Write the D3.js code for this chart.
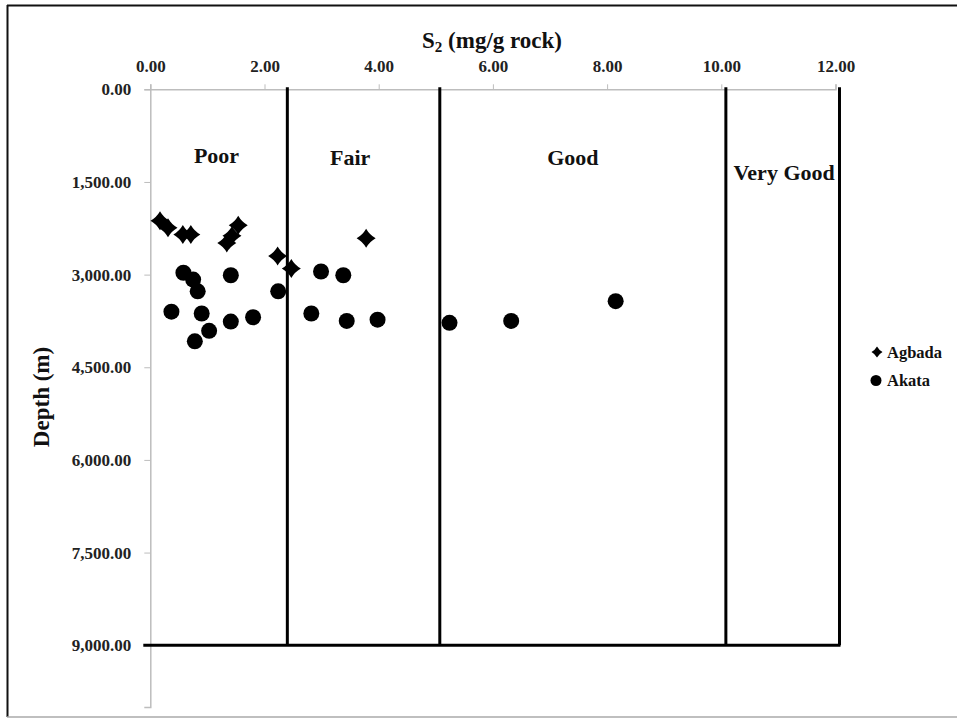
<!DOCTYPE html>
<html>
<head>
<meta charset="utf-8">
<script src="https://cdn.jsdelivr.net/npm/d3@7"></script>
<style>
  html, body { margin: 0; padding: 0; background: #fff; }
  svg { display: block; }
  text { font-family: "Liberation Serif", "Times New Roman", serif; }
</style>
</head>
<body>
<svg id="chart" width="957" height="718"></svg>
<script>
// S2 tick values (top axis) and depth ticks (left axis)
const s2Ticks = [0, 2, 4, 6, 8, 10, 12];
const depthTicks = [0, 1500, 3000, 4500, 6000, 7500, 9000];

// Agbada Formation samples
const agbadaS2    = [0.17, 0.31, 0.57, 0.71, 1.54, 1.43, 1.34, 2.23, 2.47, 3.78];
const agbadaDepth = [2130, 2240, 2350, 2350, 2200, 2370, 2490, 2700, 2900, 2410];

// Akata Formation samples
const akataS2    = [0.58, 0.75, 0.83, 1.41, 2.24, 2.99, 3.38, 0.37, 0.90, 1.03, 0.78, 1.41, 1.80, 2.82, 3.44, 3.98, 5.24, 6.32, 8.15];
const akataDepth = [2970, 3080, 3270, 3010, 3270, 2950, 3010, 3600, 3630, 3910, 4080, 3760, 3690, 3630, 3750, 3730, 3780, 3750, 3430];

// Source-potential classes: boundaries in S2 and label anchors
const classBounds = [2.4, 5.07, 10.08, 12.07];
const classNames  = ["Poor", "Fair", "Good", "Very Good"];
const classLabelS2    = [1.16, 3.5, 7.4, 11.1];
const classLabelDepth = [1200, 1220, 1230, 1470];

const seriesNames = ["Agbada", "Akata"];

const svg = d3.select("#chart");

// outer frame
svg.append("line").attr("x1", 7).attr("x2", 957).attr("y1", 5.5).attr("y2", 5.5)
  .attr("stroke", "#111").attr("stroke-width", 2);
svg.append("line").attr("x1", 7.5).attr("x2", 7.5).attr("y1", 5).attr("y2", 717)
  .attr("stroke", "#111").attr("stroke-width", 2);
svg.append("line").attr("x1", 7).attr("x2", 957).attr("y1", 717).attr("y2", 717)
  .attr("stroke", "#aaa").attr("stroke-width", 1.5);

const x = d3.scaleLinear().domain([0, 12]).range([150.3, 835.5]);
const y = d3.scaleLinear().domain([0, 10000]).range([89.3, 707]);

const fmtS2 = d3.format(".2f");
const fmtDepth = d3.format(",.2f");

// top axis (S2)
const xAxis = svg.append("g").attr("transform", `translate(0,${y(0)})`)
  .call(d3.axisTop(x).tickValues(s2Ticks).tickFormat(fmtS2).tickSize(5).tickPadding(12));
xAxis.select(".domain").attr("stroke", "#bdbdbd").attr("stroke-width", 1.5);
xAxis.selectAll(".tick line").attr("stroke", "#bdbdbd");
xAxis.selectAll(".tick text").attr("fill", "#222").attr("font-size", 17)
  .attr("font-weight", "bold");

// left axis (depth)
const yAxis = svg.append("g").attr("transform", `translate(${x(0)},0)`)
  .call(d3.axisLeft(y).tickValues(depthTicks).tickFormat(fmtDepth).tickSize(6).tickPadding(13));
yAxis.select(".domain").attr("stroke", "#bdbdbd").attr("stroke-width", 1.5);
yAxis.selectAll(".tick line").attr("stroke", "#bdbdbd");
yAxis.selectAll(".tick text").attr("fill", "#222").attr("font-size", 17)
  .attr("font-weight", "bold");

// class boundary lines and the base line at 9,000 m
const bottomDepth = 9000;
svg.append("g").selectAll("line").data(classBounds).join("line")
  .attr("x1", d => x(d)).attr("x2", d => x(d))
  .attr("y1", y(0) - 2).attr("y2", y(bottomDepth))
  .attr("stroke", "#000").attr("stroke-width", 3);
svg.append("line")
  .attr("x1", x(0) - 7).attr("x2", x(classBounds[classBounds.length - 1]) + 1)
  .attr("y1", y(bottomDepth)).attr("y2", y(bottomDepth))
  .attr("stroke", "#000").attr("stroke-width", 3);

// class labels
svg.append("g").selectAll("text").data(classNames).join("text")
  .attr("x", (d, i) => x(classLabelS2[i]))
  .attr("y", (d, i) => y(classLabelDepth[i]))
  .attr("text-anchor", "middle")
  .attr("font-size", 22).attr("font-weight", "bold").attr("fill", "#111")
  .text(d => d);

// marker shapes
function diamondPath(s) {
  const c = s * 0.36;
  return `M0,${-s}Q${c},${-c} ${s},0Q${c},${c} 0,${s}Q${-c},${c} ${-s},0Q${-c},${-c} 0,${-s}Z`;
}

// Agbada points
svg.append("g").selectAll("path").data(d3.range(agbadaS2.length)).join("path")
  .attr("transform", i => `translate(${x(agbadaS2[i])},${y(agbadaDepth[i])})`)
  .attr("d", diamondPath(9.5))
  .attr("fill", "#000");

// Akata points
svg.append("g").selectAll("circle").data(d3.range(akataS2.length)).join("circle")
  .attr("cx", i => x(akataS2[i])).attr("cy", i => y(akataDepth[i]))
  .attr("r", 8).attr("fill", "#000");

// axis titles
const xTitle = svg.append("text")
  .attr("x", 492).attr("y", 48).attr("text-anchor", "middle")
  .attr("font-size", 23).attr("font-weight", "bold").attr("fill", "#111");
xTitle.append("tspan").text("S");
xTitle.append("tspan").attr("font-size", 15).attr("dy", 4).text("2");
xTitle.append("tspan").attr("dy", -4).text(" (mg/g rock)");

svg.append("text")
  .attr("transform", `translate(49,397) rotate(-90)`)
  .attr("text-anchor", "middle")
  .attr("font-size", 23).attr("font-weight", "bold").attr("fill", "#111")
  .text("Depth (m)");

// legend
const legend = svg.append("g").attr("transform", "translate(877,352)");
legend.append("path").attr("d", diamondPath(5.5)).attr("fill", "#000");
legend.append("circle").attr("cx", -1).attr("cy", 28.5).attr("r", 5.5).attr("fill", "#000");
legend.selectAll("text").data(seriesNames).join("text")
  .attr("x", 10).attr("y", (d, i) => 5.5 + i * 28)
  .attr("font-size", 16.5).attr("font-weight", "bold").attr("fill", "#111")
  .text(d => d);
</script>
</body>
</html>
